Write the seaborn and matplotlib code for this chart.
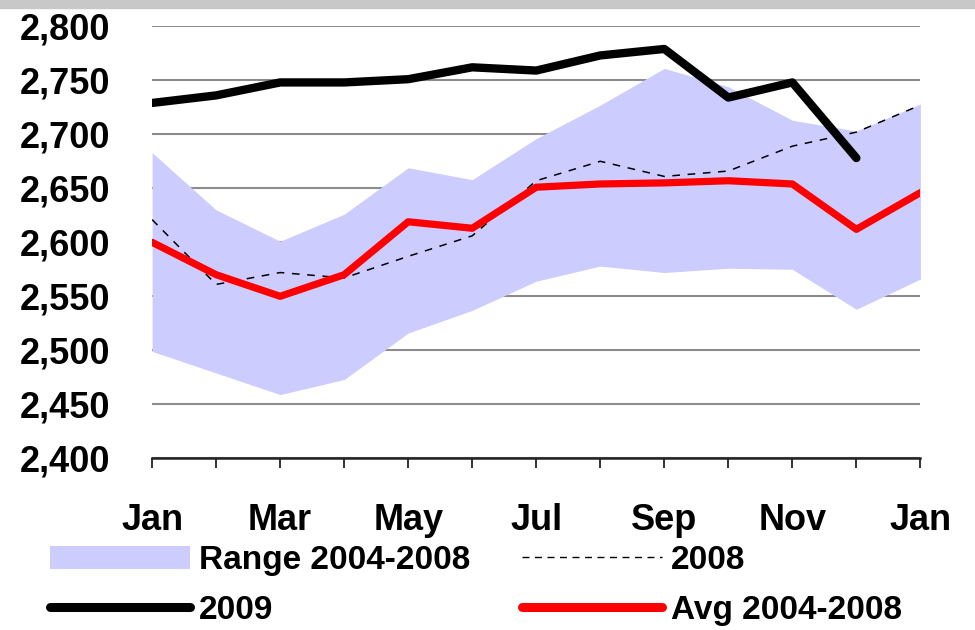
import matplotlib
matplotlib.use("Agg")
import matplotlib.pyplot as plt
import seaborn as sns
import pandas as pd
import numpy as np
from matplotlib.patches import Patch, Rectangle
from matplotlib.lines import Line2D

# Monthly values
months = ["Jan", "Feb", "Mar", "Apr", "May", "Jun", "Jul",
          "Aug", "Sep", "Oct", "Nov", "Dec", "Jan"]
range_low = [2499, 2479, 2459, 2473, 2516, 2537, 2564,
             2578, 2572, 2576, 2575, 2538, 2566]
range_high = [2683, 2630, 2601, 2626, 2669, 2658, 2696,
              2727, 2761, 2744, 2713, 2703, 2728]
avg_0408 = [2600, 2570, 2550, 2570, 2619, 2613, 2651,
            2654, 2655, 2657, 2654, 2612, 2646]
y2008 = [2621, 2561, 2572, 2567, 2587, 2606, 2657,
         2675, 2661, 2666, 2689, 2702, 2727]
y2009 = [2729, 2736, 2748, 2748, 2751, 2762, 2759,
         2773, 2779, 2734, 2748, 2678, np.nan]

df = pd.DataFrame({
    "pos": range(len(months)),
    "month": months,
    "low": range_low,
    "high": range_high,
    "avg": avg_0408,
    "y2008": y2008,
    "y2009": y2009,
})

sns.set_theme(style="white")
plt.rcParams["font.family"] = ["Liberation Sans", "DejaVu Sans"]
plt.rcParams["font.weight"] = "bold"

fig = plt.figure(figsize=(9.75, 6.3), dpi=100)
fig.patches.append(Rectangle((0, 1 - 8 / 630), 1, 8 / 630, transform=fig.transFigure,
                             color="#c8c8c8", zorder=0))
ax = fig.add_axes([0.156, 0.2725, 0.788, 0.6858])

# Range band sits above the grid
ax.fill_between(df["pos"], df["low"], df["high"], color="#ccccff", lw=0, zorder=1)

sns.lineplot(data=df, x="pos", y="y2008", ax=ax, color="black", lw=1.1,
             linestyle=(0, (5, 5)), zorder=2)
sns.lineplot(data=df, x="pos", y="avg", ax=ax, color="red", lw=5.2,
             solid_joinstyle="round", zorder=3)
sns.lineplot(data=df.dropna(), x="pos", y="y2009", ax=ax, color="black", lw=6,
             solid_joinstyle="round", solid_capstyle="round", zorder=4)

ax.set_xlim(0, 12)
ax.set_ylim(2400, 2800)
ax.set_yticks(range(2400, 2801, 50))
ax.set_yticklabels([f"{v:,}" for v in range(2400, 2801, 50)])
ax.set_xticks(df["pos"])
ax.set_xticklabels([m if i % 2 == 0 else "" for i, m in enumerate(months)])
ax.set_xlabel("")
ax.set_ylabel("")

ax.set_axisbelow(True)
ax.yaxis.grid(True, color="#8c8c8c", lw=1.5)
ax.xaxis.grid(False)
for s in ["left", "right", "top"]:
    ax.spines[s].set_visible(False)
ax.spines["bottom"].set_color("#222222")
ax.spines["bottom"].set_linewidth(1.8)

ax.tick_params(axis="y", length=0, pad=30, labelsize=26, labelcolor="black")
ax.tick_params(axis="x", length=7.5, width=1.3, color="#222222", direction="out",
               bottom=True, pad=25, labelsize=26, labelcolor="black")

handles = [
    Patch(facecolor="#ccccff", edgecolor="none"),
    Line2D([], [], color="black", lw=6.5, solid_capstyle="round"),
    Line2D([], [], color="black", lw=1, linestyle=(0, (5, 4))),
    Line2D([], [], color="red", lw=6.5, solid_capstyle="round"),
]
labels = ["Range 2004-2008", "2009", "2008", "Avg 2004-2008"]
fig.legend(handles, labels, ncol=2, loc="upper left", bbox_to_anchor=(0.051, 0.135),
           frameon=False, fontsize=24, handlelength=4.2, columnspacing=1.55,
           labelspacing=0.57, handletextpad=0.27, borderaxespad=0, borderpad=0,
           labelcolor="black")

fig.savefig("out.png", dpi=100)
